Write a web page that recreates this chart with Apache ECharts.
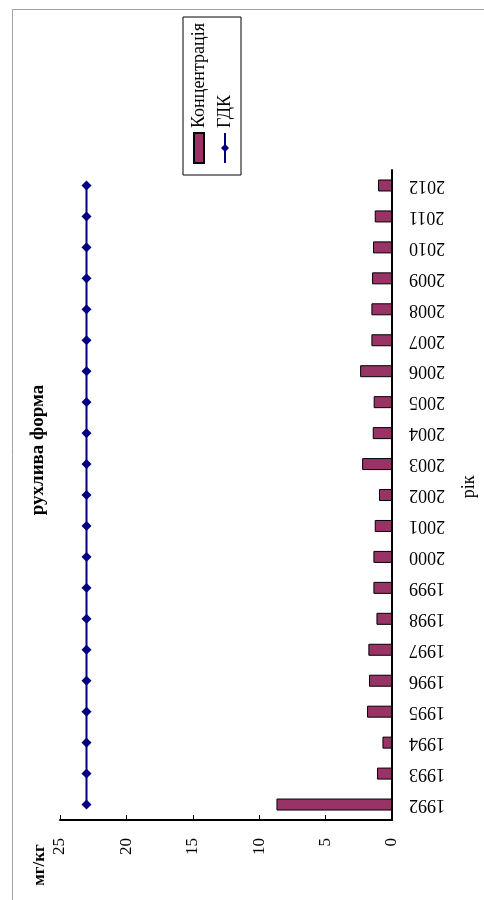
<!DOCTYPE html>
<html>
<head>
<meta charset="utf-8">
<script src="https://cdn.jsdelivr.net/npm/echarts@6/dist/echarts.min.js"></script>
<style>
  html, body { margin: 0; padding: 0; background: #fff; overflow: hidden; }
  #page { position: relative; width: 484px; height: 900px; overflow: hidden; }
  /* the chart is laid out landscape and turned a quarter turn counter-clockwise */
  #chart {
    position: absolute; left: 0; top: 0;
    width: 900px; height: 484px;
    transform-origin: 0 0;
    transform: translateY(900px) rotate(-90deg);
  }
</style>
</head>
<body>
<div id="page"><div id="chart"></div></div>
<script>
// years of observation
const years = ['1992','1993','1994','1995','1996','1997','1998','1999','2000','2001','2002',
               '2003','2004','2005','2006','2007','2008','2009','2010','2011','2012'];
// mobile-form concentration, mg/kg
const concentration = [8.7, 1.13, 0.72, 1.88, 1.73, 1.78, 1.17, 1.4, 1.4, 1.3, 0.98,
                       2.25, 1.45, 1.38, 2.4, 1.55, 1.55, 1.5, 1.43, 1.3, 1.05];
// maximum permissible concentration (ГДК), mg/kg
const gdk = [23, 23, 23, 23, 23, 23, 23, 23, 23, 23, 23,
             23, 23, 23, 23, 23, 23, 23, 23, 23, 23];
// value-axis range
const valueMin = 0, valueMax = 25, valueStep = 5;

const serif = '"Liberation Serif", "Times New Roman", serif';

const chart = echarts.init(document.getElementById('chart'), null, { renderer: 'canvas' });
chart.setOption({
  animation: false,
  backgroundColor: '#fff',
  title: {
    text: 'рухлива форма',
    left: 'center',
    top: 24,
    textStyle: { fontFamily: serif, fontSize: 19, fontWeight: 'bold', color: '#000' }
  },
  legend: {
    orient: 'vertical',
    left: 725,
    top: 183,
    padding: [7, 6, 7, 11],
    itemGap: 8,
    itemWidth: 30,
    itemHeight: 10,
    borderColor: '#000',
    borderWidth: 1,
    textStyle: { fontFamily: serif, fontSize: 18, color: '#000' },
    data: [{ name: 'Концентрація', icon: 'rect' }, { name: 'ГДК' }]
  },
  graphic: [{
    type: 'rect',
    silent: true,
    shape: { x: -5, y: 12.5, width: 895.5, height: 500 },
    style: { fill: 'none', stroke: '#a0a0a0', lineWidth: 1 }
  }],
  grid: { left: 80, right: 170, top: 60, bottom: 92 },
  xAxis: {
    type: 'category',
    data: years,
    name: 'рік',
    nameLocation: 'middle',
    nameGap: 68,
    nameTextStyle: { fontFamily: serif, fontSize: 18, color: '#000', padding: [0, 0, 0, 16] },
    axisLine: { lineStyle: { color: '#000', width: 2 } },
    axisTick: { inside: true, length: 5, lineStyle: { color: '#000', width: 1 } },
    axisLabel: { rotate: 90, margin: 17, fontFamily: serif, fontSize: 18, color: '#000' }
  },
  yAxis: {
    type: 'value',
    min: valueMin,
    max: valueMax,
    interval: valueStep,
    name: 'мг/кг',
    nameLocation: 'end',
    nameGap: 12,
    nameTextStyle: { fontFamily: serif, fontSize: 17, fontWeight: 'bold', color: '#000', align: 'center', padding: [0, 90, 0, 0] },
    axisLine: { show: true, lineStyle: { color: '#000', width: 2 } },
    axisTick: { show: true, inside: true, length: 5, lineStyle: { color: '#000', width: 1 } },
    splitLine: { show: false },
    axisLabel: { margin: 18, fontFamily: serif, fontSize: 17, color: '#000' }
  },
  series: [
    {
      name: 'Концентрація',
      type: 'bar',
      data: concentration,
      barWidth: 12,
      itemStyle: { color: '#993366', borderColor: '#000', borderWidth: 1 }
    },
    {
      name: 'ГДК',
      type: 'line',
      data: gdk,
      symbol: 'diamond',
      symbolSize: 10,
      lineStyle: { color: '#000080', width: 2 },
      itemStyle: { color: '#000080' }
    }
  ]
});
</script>
</body>
</html>
